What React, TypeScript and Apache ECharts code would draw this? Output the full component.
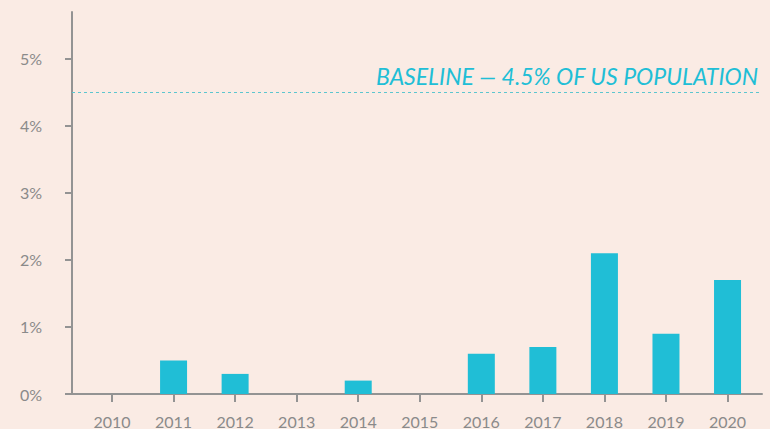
import React, { useEffect, useRef } from "react";
import * as echarts from "echarts";

const years = [2010, 2011, 2012, 2013, 2014, 2015, 2016, 2017, 2018, 2019, 2020];
const values = [0, 0.5, 0.3, 0, 0.2, 0, 0.6, 0.7, 2.1, 0.9, 1.7];
const yTicks = [0, 1, 2, 3, 4, 5];
const baselineValue = 4.5;
const baselineLabel = "BASELINE — 4.5% OF US POPULATION";

const GRAY = "#939393";
const LABEL = "#8a8a8a";
const TEAL = "#20bed6";

export default function App() {
  const ref = useRef<HTMLDivElement>(null);
  useEffect(() => {
    if (!ref.current) return;
    const chart = echarts.init(ref.current, null, { renderer: "svg" });
    chart.setOption({
      animation: false,
      backgroundColor: "#faebe4",
      grid: { left: 72, right: 8, top: 12, bottom: 34.5 },
      xAxis: {
        type: "value",
        min: 2009.35,
        max: 2020.56,
        splitLine: { show: false },
        axisLine: { show: true, onZero: false, lineStyle: { color: GRAY, width: 2 } },
        axisTick: { show: true, customValues: years, length: 8, lineStyle: { color: GRAY, width: 2 } },
        axisLabel: {
          customValues: years,
          color: LABEL,
          fontSize: 16,
          fontFamily: "Lato",
          margin: 19,
          formatter: (v: number) => String(v),
        },
      },
      yAxis: {
        type: "value",
        min: 0,
        max: 5.7,
        splitLine: { show: false },
        axisLine: { show: true, lineStyle: { color: GRAY, width: 2 } },
        axisTick: { show: true, customValues: yTicks, length: 7, lineStyle: { color: GRAY, width: 2 } },
        axisLabel: {
          customValues: yTicks,
          color: LABEL,
          fontSize: 16,
          fontFamily: "Lato",
          margin: 30,
          formatter: (v: number) => v + "%",
        },
      },
      series: [
        {
          type: "bar",
          data: years.map((y, i) => [y, values[i]]),
          barWidth: 27,
          itemStyle: { color: TEAL },
          markLine: {
            silent: true,
            symbol: "none",
            lineStyle: { color: "#5cc6cf", type: [3, 3], width: 1 },
            label: {
              show: true,
              position: "insideEndTop",
              formatter: baselineLabel,
              color: TEAL,
              fontSize: 23,
              fontStyle: "italic",
              fontWeight: 400,
              fontFamily: "Lato",
              distance: [4, 5],
            },
            data: [{ yAxis: baselineValue }],
          },
        },
      ],
    });
    return () => chart.dispose();
  }, []);
  return <div ref={ref} style={{ position: "absolute", left: 0, top: 0, width: 770, height: 429 }} />;
}
